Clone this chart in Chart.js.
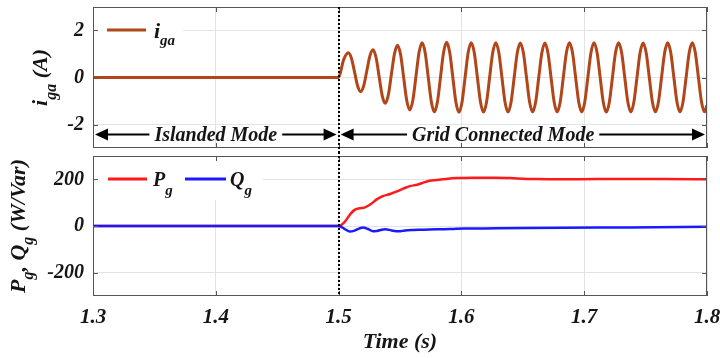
<!DOCTYPE html>
<html>
<head>
<meta charset="utf-8">
<script src="https://cdn.jsdelivr.net/npm/chart.js@4.4.1/dist/chart.umd.min.js"></script>
<style>
  html, body { margin: 0; padding: 0; background: #fff; }
  #wrap { position: relative; width: 720px; height: 358px; overflow: hidden; }
  #topBox { position: absolute; left: 0; top: 0; width: 720px; height: 152px; }
  #botBox { position: absolute; left: 0; top: 152px; width: 720px; height: 206px; }
  canvas { display: block; }
</style>
</head>
<body>
<div id="wrap">
  <div id="topBox"><canvas id="igaChart"></canvas></div>
  <div id="botBox"><canvas id="powerChart"></canvas></div>
</div>
<script>
// ---- time axis ----
const xTicks = [1.3, 1.4, 1.5, 1.6, 1.7, 1.8];
const xTickLabels = ['1.3', '1.4', '1.5', '1.6', '1.7', '1.8'];
const switchTime = 1.5;

// ---- grid current i_ga (A) ----
const igaTicks = [-2, 0, 2];
const igaTickLabels = ['-2', '0', '2'];
const igaTime = [
  1.3000, 1.5000, 1.5040,
  1.5080, 1.5105, 1.5130, 1.5155, 1.5180, 1.5205, 1.5230, 1.5255,
  1.5280, 1.5305, 1.5330, 1.5355, 1.5380, 1.5405, 1.5430, 1.5455,
  1.5480, 1.5505, 1.5530, 1.5555, 1.5580, 1.5605, 1.5630, 1.5655,
  1.5680, 1.5705, 1.5730, 1.5755, 1.5780, 1.5805, 1.5830, 1.5855,
  1.5880, 1.5905, 1.5930, 1.5955, 1.5980, 1.6005, 1.6030, 1.6055,
  1.6080, 1.6105, 1.6130, 1.6155, 1.6180, 1.6205, 1.6230, 1.6255,
  1.6280, 1.6305, 1.6330, 1.6355, 1.6380, 1.6405, 1.6430, 1.6455,
  1.6480, 1.6505, 1.6530, 1.6555, 1.6580, 1.6605, 1.6630, 1.6655,
  1.6680, 1.6705, 1.6730, 1.6755, 1.6780, 1.6805, 1.6830, 1.6855,
  1.6880, 1.6905, 1.6930, 1.6955, 1.6980, 1.7005, 1.7030, 1.7055,
  1.7080, 1.7105, 1.7130, 1.7155, 1.7180, 1.7205, 1.7230, 1.7255,
  1.7280, 1.7305, 1.7330, 1.7355, 1.7380, 1.7405, 1.7430, 1.7455,
  1.7480, 1.7505, 1.7530, 1.7555, 1.7580, 1.7605, 1.7630, 1.7655,
  1.7680, 1.7705, 1.7730, 1.7755, 1.7780, 1.7805, 1.7830, 1.7855,
  1.7880, 1.7905, 1.7930, 1.7955, 1.7980, 1.8000
];
const igaValue = [
  0, 0, 0.74,
  1.05, 0.81, 0.23, -0.36, -0.60, -0.34, 0.29, 0.92,
  1.18, 0.85, 0.04, -0.77, -1.10, -0.74, 0.14, 1.01,
  1.37, 0.97, -0.01, -0.98, -1.38, -0.96, 0.05, 1.06,
  1.48, 1.05, 0.01, -1.03, -1.46, -1.03, 0.02, 1.07,
  1.50, 1.06, 0.01, -1.04, -1.48, -1.05, 0.00, 1.05,
  1.48, 1.05, 0.01, -1.03, -1.47, -1.04, 0.01, 1.05,
  1.48, 1.05, 0.01, -1.04, -1.47, -1.03, 0.01, 1.05,
  1.47, 1.04, 0.01, -1.03, -1.46, -1.03, 0.01, 1.04,
  1.47, 1.04, 0.00, -1.03, -1.46, -1.03, 0.01, 1.05,
  1.48, 1.05, 0.01, -1.03, -1.46, -1.03, 0.01, 1.05,
  1.48, 1.05, 0.01, -1.04, -1.47, -1.04, 0.01, 1.05,
  1.48, 1.05, 0.01, -1.03, -1.46, -1.03, 0.01, 1.05,
  1.47, 1.04, 0.01, -1.03, -1.46, -1.03, 0.01, 1.05,
  1.48, 1.05, 0.01, -1.03, -1.46, -1.03, 0.01, 1.05,
  1.48, 1.05, 0.01, -1.03, -1.46, -1.18
];

// ---- grid active / reactive power (W / Var) ----
const powerTicks = [-200, 0, 200];
const powerTickLabels = ['-200', '0', '200'];
const pTime  = [1.300, 1.500, 1.505, 1.509, 1.513, 1.517, 1.521, 1.526, 1.531, 1.536, 1.542, 1.547, 1.553, 1.558, 1.564, 1.569, 1.574, 1.580, 1.585, 1.591, 1.596, 1.602, 1.615, 1.629, 1.645, 1.661, 1.683, 1.710, 1.740, 1.764, 1.800];
const pValue = [0, 0, 18, 47, 69, 76, 79, 93, 114, 128, 137, 147, 161, 171, 177, 186, 194, 197, 200, 204, 206, 206, 207, 207, 204, 201, 200, 201, 201, 201, 200];
const qTime  = [1.300, 1.500, 1.505, 1.509, 1.513, 1.517, 1.520, 1.524, 1.528, 1.532, 1.538, 1.543, 1.549, 1.554, 1.561, 1.569, 1.580, 1.591, 1.602, 1.629, 1.683, 1.737, 1.800];
const qValue = [0, 0, -13, -24, -20, -10, -6, -13, -23, -20, -14, -19, -23, -19, -17, -16, -14, -13, -11, -10, -7, -6, -3];

// ---- operating-mode annotations ----
const modeNames = ['Islanded Mode', 'Grid Connected Mode'];
const modeStart = [1.3, 1.5];
const modeEnd = [1.5, 1.8];
const modeLabelAt = [1.4, 1.634];
const modeLevel = -2.43;

// ---- styling ----
const FAMILY = 'Liberation Serif';
const INK = '#151515';
const GRID = '#e3e3e3';
const FRAME = '#555555';
const IGA_COLOR = '#b0461a';
const P_COLOR = '#ff1a1a';
const Q_COLOR = '#1a1aff';
const fontStr = s => `italic bold ${s}px "${FAMILY}"`;
Chart.defaults.font.family = FAMILY;
Chart.defaults.color = INK;

// text runs with subscripts; optionally rotated for vertical axis titles
function drawRich(ctx, parts, x, y, rotate, center) {
  ctx.save();
  ctx.translate(x, y);
  if (rotate) ctx.rotate(-Math.PI / 2);
  ctx.fillStyle = INK;
  ctx.textAlign = 'left';
  ctx.textBaseline = 'alphabetic';
  let total = 0;
  parts.forEach(p => { ctx.font = fontStr(p.s); p.w = ctx.measureText(p.t).width; total += p.w; });
  let cx = center ? -total / 2 : 0;
  parts.forEach(p => { ctx.font = fontStr(p.s); ctx.fillText(p.t, cx, p.dy || 0); cx += p.w; });
  ctx.restore();
}

// frame, inward ticks and the switching instant marker
function framePlugin(dotTop, dotBottom) {
  return {
    id: 'frameAndMarker',
    afterDraw(chart) {
      const { ctx, chartArea: a, scales } = chart;
      ctx.save();
      ctx.strokeStyle = FRAME;
      ctx.lineWidth = 1;
      ctx.beginPath();
      scales.x.ticks.forEach(t => {
        const px = Math.round(scales.x.getPixelForValue(t.value)) + 0.5;
        ctx.moveTo(px, a.top); ctx.lineTo(px, a.top + 5);
        ctx.moveTo(px, a.bottom); ctx.lineTo(px, a.bottom - 5);
      });
      scales.y.ticks.forEach(t => {
        const py = Math.round(scales.y.getPixelForValue(t.value)) + 0.5;
        ctx.moveTo(a.left, py); ctx.lineTo(a.left + 5, py);
        ctx.moveTo(a.right, py); ctx.lineTo(a.right - 5, py);
      });
      ctx.stroke();
      ctx.strokeRect(a.left + 0.5, a.top + 0.5, a.width - 1, a.height - 1);
      // switching instant
      const sx = Math.round(scales.x.getPixelForValue(switchTime));
      ctx.strokeStyle = '#000';
      ctx.lineWidth = 2;
      ctx.setLineDash([2, 2]);
      ctx.beginPath();
      ctx.moveTo(sx, dotTop(chart));
      ctx.lineTo(sx, dotBottom(chart));
      ctx.stroke();
      ctx.restore();
    }
  };
}

function xScale(showLabels, height) {
  return {
    type: 'linear',
    min: xTicks[0],
    max: xTicks[xTicks.length - 1],
    afterBuildTicks: s => { s.ticks = xTicks.map(v => ({ value: v })); },
    afterFit: s => { s.height = height; s.paddingLeft = 0; s.paddingRight = 0; },
    grid: { color: GRID, lineWidth: 1, drawTicks: false },
    border: { display: false },
    ticks: {
      display: showLabels, autoSkip: false, maxRotation: 0, padding: 9, color: INK,
      font: { family: FAMILY, size: 21, style: 'italic', weight: 'bold' },
      callback: (v, i) => xTickLabels[i]
    }
  };
}

function yScale(lim, ticks, labels) {
  return {
    type: 'linear',
    min: -lim,
    max: lim,
    afterBuildTicks: s => { s.ticks = ticks.map(v => ({ value: v })); },
    afterFit: s => { s.width = 93; s.paddingTop = 0; s.paddingBottom = 0; },
    grid: { color: GRID, lineWidth: 1, drawTicks: false },
    border: { display: false },
    ticks: {
      padding: 9, color: INK,
      font: { family: FAMILY, size: 20, style: 'italic', weight: 'bold' },
      callback: (v, i) => labels[i]
    }
  };
}

const points = (xs, ys) => xs.map((x, i) => ({ x: x, y: ys[i] }));

// ---------- top panel: grid current ----------
const igaDecor = {
  id: 'igaDecor',
  beforeDatasetsDraw(chart) {
    const { ctx, chartArea: a } = chart;
    const ly = a.top + 23;
    ctx.save();
    ctx.fillStyle = '#fff';
    ctx.fillRect(a.left + 1, a.top + 1, 89, 44);
    ctx.strokeStyle = IGA_COLOR;
    ctx.lineWidth = 3;
    ctx.beginPath();
    ctx.moveTo(a.left + 14, ly); ctx.lineTo(a.left + 53, ly);
    ctx.stroke();
    ctx.restore();
    drawRich(ctx, [{ t: 'i', s: 22 }, { t: 'ga', s: 15, dy: 7 }], a.left + 61, ly + 8, false, false);
  },
  afterDatasetsDraw(chart) {
    const { ctx, scales: { x, y } } = chart;
    const yy = y.getPixelForValue(modeLevel);
    ctx.save();
    ctx.fillStyle = '#000';
    ctx.strokeStyle = '#000';
    ctx.lineWidth = 2;
    ctx.font = fontStr(20);
    ctx.textAlign = 'center';
    ctx.textBaseline = 'middle';
    modeNames.forEach((name, i) => {
      const xs = x.getPixelForValue(modeStart[i]) + 2;
      const xe = x.getPixelForValue(modeEnd[i]) - 2;
      const xc = x.getPixelForValue(modeLabelAt[i]);
      const w = ctx.measureText(name).width;
      ctx.beginPath();
      ctx.moveTo(xs + 10, yy); ctx.lineTo(xc - w / 2 - 5, yy);
      ctx.moveTo(xc + w / 2 + 5, yy); ctx.lineTo(xe - 10, yy);
      ctx.stroke();
      ctx.beginPath();
      ctx.moveTo(xs, yy); ctx.lineTo(xs + 13, yy - 6); ctx.lineTo(xs + 13, yy + 6); ctx.closePath();
      ctx.moveTo(xe, yy); ctx.lineTo(xe - 13, yy - 6); ctx.lineTo(xe - 13, yy + 6); ctx.closePath();
      ctx.fill();
      ctx.fillStyle = INK;
      ctx.fillText(name, xc, yy + 1);
      ctx.fillStyle = '#000';
    });
    ctx.restore();
  },
  afterDraw(chart) {
    const a = chart.chartArea;
    drawRich(chart.ctx, [{ t: 'i', s: 22 }, { t: 'ga', s: 16, dy: 9 }, { t: ' (A)', s: 22 }],
      47, (a.top + a.bottom) / 2, true, true);
  }
};

new Chart(document.getElementById('igaChart'), {
  type: 'line',
  data: {
    datasets: [{
      label: 'iga',
      data: points(igaTime, igaValue),
      borderColor: IGA_COLOR,
      borderWidth: 3,
      pointRadius: 0,
      fill: false,
      cubicInterpolationMode: 'monotone'
    }]
  },
  options: {
    responsive: true,
    maintainAspectRatio: false,
    animation: false,
    events: [],
    layout: { padding: { left: 0, right: 13, top: 7, bottom: 0 } },
    plugins: { legend: { display: false }, tooltip: { enabled: false } },
    scales: { x: xScale(false, 4), y: yScale(3, igaTicks, igaTickLabels) }
  },
  plugins: [igaDecor, framePlugin(c => c.chartArea.top, c => c.height)]
});

// ---------- bottom panel: active and reactive power ----------
const powerDecor = {
  id: 'powerDecor',
  beforeDatasetsDraw(chart) {
    const { ctx, chartArea: a } = chart;
    const ly = a.top + 23;
    ctx.save();
    ctx.fillStyle = '#fff';
    ctx.fillRect(a.left + 1, a.top + 1, 169, 43);
    ctx.lineWidth = 3;
    ctx.strokeStyle = P_COLOR;
    ctx.beginPath(); ctx.moveTo(a.left + 15, ly); ctx.lineTo(a.left + 54, ly); ctx.stroke();
    ctx.strokeStyle = Q_COLOR;
    ctx.beginPath(); ctx.moveTo(a.left + 92, ly); ctx.lineTo(a.left + 133, ly); ctx.stroke();
    ctx.restore();
    drawRich(ctx, [{ t: 'P', s: 20 }, { t: 'g', s: 15, dy: 9 }], a.left + 60, ly + 7, false, false);
    drawRich(ctx, [{ t: 'Q', s: 20 }, { t: 'g', s: 15, dy: 9 }], a.left + 137, ly + 7, false, false);
  },
  afterDraw(chart) {
    const a = chart.chartArea;
    drawRich(chart.ctx, [
      { t: 'P', s: 22 }, { t: 'g', s: 16, dy: 8 }, { t: ', ', s: 22 },
      { t: 'Q', s: 22 }, { t: 'g', s: 16, dy: 8 }, { t: ' (W/Var)', s: 22 }
    ], 25, (a.top + a.bottom) / 2, true, true);
    drawRich(chart.ctx, [{ t: 'Time (s)', s: 22 }], (a.left + a.right) / 2, a.bottom + 52, false, true);
  }
};

new Chart(document.getElementById('powerChart'), {
  type: 'line',
  data: {
    datasets: [
      {
        label: 'Qg',
        data: points(qTime, qValue),
        borderColor: Q_COLOR,
        borderWidth: 2.5,
        pointRadius: 0,
        fill: false,
        cubicInterpolationMode: 'monotone'
      },
      {
        label: 'Pg',
        data: points(pTime, pValue),
        borderColor: P_COLOR,
        borderWidth: 2.5,
        pointRadius: 0,
        fill: false,
        cubicInterpolationMode: 'monotone'
      }
    ]
  },
  options: {
    responsive: true,
    maintainAspectRatio: false,
    animation: false,
    events: [],
    layout: { padding: { left: 0, right: 13, top: 4, bottom: 0 } },
    plugins: { legend: { display: false }, tooltip: { enabled: false } },
    scales: { x: xScale(true, 62), y: yScale(300, powerTicks, powerTickLabels) }
  },
  plugins: [powerDecor, framePlugin(c => 0, c => c.chartArea.bottom)]
});
</script>
</body>
</html>
